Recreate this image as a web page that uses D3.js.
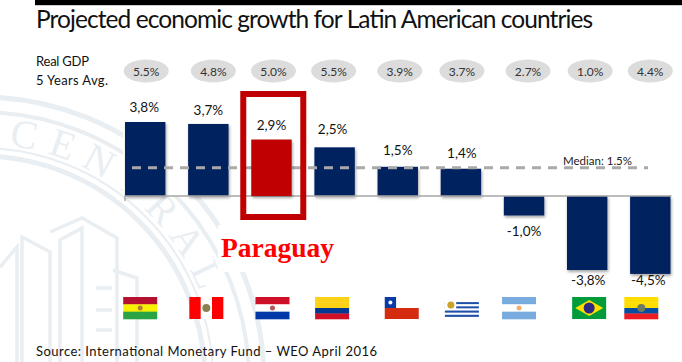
<!DOCTYPE html>
<html>
<head>
<meta charset="utf-8">
<script src="https://cdn.jsdelivr.net/npm/d3@7"></script>
<style>
  html, body { margin: 0; padding: 0; background: #fff; }
  svg { display: block; }
  text { font-family: Lato, "Open Sans", sans-serif; }
</style>
</head>
<body>
<div id="viz"></div>
<script>
const _W = 682, _H = 362;
const _NAVY = '#00205f', _RED = '#c00000', _MARK = '#e9eef2';
const _SEAL_X = -19, _SEAL_Y = 380;

const countries = ['Bolivia', 'Peru', 'Paraguay', 'Colombia', 'Chile', 'Uruguay', 'Argentina', 'Brazil', 'Ecuador'];
const growth = [3.8, 3.7, 2.9, 2.5, 1.5, 1.4, -1.0, -3.8, -4.0]; // last bar is drawn shorter than its -4,5% label
const growthLabels = ['3,8%', '3,7%', '2,9%', '2,5%', '1,5%', '1,4%', '-1,0%', '-3,8%', '-4,5%'];
const avgLabels = ['5.5%', '4.8%', '5.0%', '5.5%', '3.9%', '3.7%', '2.7%', '1.0%', '4.4%'];
const median = 1.5;
const highlight = 'Paraguay';

// the original slide places these by hand, so they don't sit quite on the bar centres
const pillNudge = [1, 5, 2, -1, 2, 1, 4, 3, 0];
const labelNudge = [-1, 0, 0, -2, 0, 1, 0, 1, -2];
const labelGap = [10, 9, 10, 13, 12, 11, 21, 15, 11];
const flagNudge = [-5, -2, 1, -2.5, 4, 1, -5, 2, -9];

const svg = d3.select('#viz').append('svg').attr('width', _W).attr('height', _H);

const x = d3.scaleBand().domain(countries).range([125, 670.5]).paddingInner(.36);
const y = d3.scaleLinear().domain([0, 3.8]).range([196, 122]);

svg.append('defs').append('filter').attr('id', 'shadow')
    .attr('x', '-10%').attr('y', '-10%').attr('width', '125%').attr('height', '125%')
    .append('feDropShadow')
    .attr('dx', 1).attr('dy', 2).attr('stdDeviation', 1.5)
    .attr('flood-color', '#000').attr('flood-opacity', .35);

// seal in the background
const seal = svg.append('g').attr('fill', 'none').attr('stroke', _MARK);
[[283, 5], [268, 4], [232, 2], [224, 5]].forEach(([r, w]) => {
    seal.append('circle').attr('cx', _SEAL_X).attr('cy', _SEAL_Y).attr('r', r).attr('stroke-width', w);
});
// one text per letter so each can turn with the ring
const sealAngle = d3.scalePoint().domain(d3.range(7)).range([10, 65]);
svg.append('g').selectAll('text')
    .data('CENTRAL'.split(''))
    .join('text')
    .style('font-family', '"Liberation Serif", serif')
    .attr('font-size', 40).attr('fill', _MARK).attr('text-anchor', 'middle')
    .attr('transform', (d, i) => 'translate(' + _SEAL_X + ',' + _SEAL_Y + ') rotate(' + sealAngle(i) + ') translate(0,-236)')
    .text(d => d);
seal.append('path')
    .attr('stroke-width', 3.5)
    .attr('d', 'M0,267L17,247V362M22,362V237L50,252V362M50,232L82,218L117,238V362M60,362V240L82,228V362'
        + 'M113,270L137,278V362M96,288H112M96,310H112M96,330H112');

// white patches the slide has over the seal
svg.append('rect').attr('x', 123).attr('y', 88).attr('width', 559).attr('height', 108).attr('fill', '#fff');
svg.append('rect').attr('x', 218).attr('y', 225).attr('width', 125).attr('height', 47).attr('fill', '#fff');

// header
svg.append('rect').attr('x', 35).attr('y', 0).attr('width', 647).attr('height', 5).attr('fill', '#000');
svg.append('rect').attr('x', 35).attr('y', 5).attr('width', 647).attr('height', 1).attr('fill', '#ccc');
svg.append('text')
    .attr('x', 36).attr('y', 28)
    .attr('font-size', 24.5).attr('fill', '#111')
    .attr('textLength', 557).attr('lengthAdjust', 'spacing')
    .text('Projected economic growth for Latin American countries');

svg.append('text').attr('x', 36).attr('y', 66).attr('font-size', 13).attr('fill', '#111')
    .attr('textLength', 53).attr('lengthAdjust', 'spacing').text('Real GDP');
svg.append('text').attr('x', 36).attr('y', 85).attr('font-size', 13).attr('fill', '#111')
    .attr('textLength', 72).attr('lengthAdjust', 'spacing').text('5 Years  Avg.');

// 5 year average pills
const pills = svg.append('g').selectAll('g')
    .data(countries)
    .join('g')
    .attr('transform', (d, i) => 'translate(' + (x(d) + x.bandwidth() / 2 + pillNudge[i]) + ',71)');
pills.append('ellipse').attr('rx', 22.5).attr('ry', 11.5).attr('fill', '#dcdcdc');
pills.append('text')
    .attr('text-anchor', 'middle').attr('y', 4.5)
    .attr('font-size', 12).attr('fill', '#333')
    .text((d, i) => avgLabels[i]);

// bars
const barRect = sel => sel
    .attr('x', d => x(d))
    .attr('y', d => y(Math.max(0, growth[countries.indexOf(d)])))
    .attr('width', x.bandwidth())
    .attr('height', d => Math.abs(y(growth[countries.indexOf(d)]) - y(0)))
    .attr('filter', 'url(#shadow)');

svg.append('g').selectAll('rect')
    .data(countries.filter(d => d !== highlight))
    .join('rect')
    .call(barRect)
    .attr('fill', _NAVY);

// axis line
svg.append('path')
    .attr('d', 'M' + x.range()[0] + ',201V' + y(0) + 'H' + (x.range()[1] + 1))
    .attr('fill', 'none').attr('stroke', '#a6a6a6').attr('stroke-width', 1.5);

// median
svg.append('line')
    .attr('x1', 132).attr('x2', 648)
    .attr('y1', y(median) + 1).attr('y2', y(median) + 1)
    .attr('stroke', '#a9a9a9').attr('stroke-width', 3)
    .attr('stroke-dasharray', '9 7');
svg.append('text')
    .attr('x', 563).attr('y', 165)
    .attr('font-size', 11.5).attr('fill', '#222')
    .attr('textLength', 69).attr('lengthAdjust', 'spacing')
    .text('Median: ' + median.toFixed(1) + '%');

// Paraguay goes over the median line
svg.append('g').selectAll('rect')
    .data([highlight])
    .join('rect')
    .call(barRect)
    .attr('fill', _RED);
svg.append('rect')
    .attr('x', x(highlight) - 8).attr('y', 94)
    .attr('width', 60).attr('height', 123)
    .attr('fill', 'none').attr('stroke', _RED).attr('stroke-width', 6);
svg.append('text')
    .style('font-family', '"Liberation Serif", serif')
    .attr('x', 221).attr('y', 257)
    .attr('font-size', 27.5).attr('font-weight', 'bold').attr('fill', '#ff0000')
    .text(highlight);

// value labels
svg.append('g').selectAll('text')
    .data(countries)
    .join('text')
    .attr('text-anchor', 'middle')
    .attr('font-size', 13.5).attr('fill', '#111')
    .attr('x', (d, i) => x(d) + x.bandwidth() / 2 + labelNudge[i])
    .attr('y', (d, i) => y(growth[i]) + (growth[i] < 0 ? labelGap[i] : -labelGap[i]))
    .text((d, i) => growthLabels[i]);

// flags
const _FW = 34, _FH = 22;
const stripes = {
    Bolivia: ['#b5102f', '#f7f000', '#2aa345'],
    Paraguay: ['#ce1126', '#fff', '#0038a8'],
    Colombia: ['#fcd116', '#fcd116', '#003893', '#ce1126'],
    Argentina: ['#79acde', '#fff', '#79acde'],
    Ecuador: ['#ffdd00', '#ffdd00', '#034ea2', '#ed1c24'],
    Uruguay: ['#fff', '#1f4fa8', '#fff', '#1f4fa8', '#fff', '#1f4fa8', '#fff', '#1f4fa8', '#fff']
};
const emblem = {
    Bolivia: ['#b0803a', 2.5], Paraguay: ['#b3565a', 2.5], Argentina: ['#f0b070', 2.5],
    Ecuador: ['#6b7a60', 4], Peru: ['#8a8050', 4]
};

const flags = svg.append('g').selectAll('g')
    .data(countries)
    .join('g')
    .attr('transform', (d, i) => 'translate(' + (x(d) + x.bandwidth() / 2 + flagNudge[i] - _FW / 2) + ',297)');

flags.each(function(name) {
    const f = d3.select(this);
    if (stripes[name]) {
        const list = stripes[name];
        const top = name === 'Uruguay' ? 3 : 0;
        const sy = d3.scaleBand().domain(d3.range(list.length)).range([top, _FH]);
        f.selectAll('rect').data(list).join('rect')
            .attr('x', 0).attr('y', (c, i) => sy(i))
            .attr('width', _FW).attr('height', sy.bandwidth() + .3)
            .attr('fill', c => c);
    }
    if (name === 'Peru') {
        f.append('rect').attr('width', _FW).attr('height', _FH).attr('fill', '#f00');
        f.append('rect').attr('x', _FW / 3).attr('width', _FW / 3).attr('height', _FH).attr('fill', '#fff');
    }
    if (name === 'Chile') {
        f.append('rect').attr('width', _FW).attr('height', _FH / 2).attr('fill', '#fff');
        f.append('rect').attr('y', _FH / 2).attr('width', _FW).attr('height', _FH / 2).attr('fill', '#d52b10');
        f.append('rect').attr('width', _FW / 3).attr('height', _FH / 2).attr('fill', '#0a3aa8');
        f.append('circle').attr('cx', _FW / 6).attr('cy', _FH / 4).attr('r', 2).attr('fill', '#fff');
    }
    if (name === 'Uruguay') {
        f.append('rect').attr('y', 3).attr('width', _FW / 3).attr('height', 10).attr('fill', '#fff');
        f.append('circle').attr('cx', 6).attr('cy', 8).attr('r', 3.5).attr('fill', '#c9a227');
    }
    if (name === 'Brazil') {
        f.append('rect').attr('width', _FW).attr('height', _FH).attr('fill', '#009b3a');
        f.append('path').attr('d', d3.line()([[3, _FH / 2], [_FW / 2, 3], [_FW - 3, _FH / 2], [_FW / 2, _FH - 3]]) + 'Z').attr('fill', '#fedf00');
        f.append('circle').attr('cx', _FW / 2).attr('cy', _FH / 2).attr('r', 5.5).attr('fill', '#2b2a80');
    }
    if (emblem[name]) {
        f.append('circle').attr('cx', _FW / 2).attr('cy', _FH / 2)
            .attr('r', emblem[name][1]).attr('fill', emblem[name][0]);
    }
});

// source
svg.append('text')
    .attr('x', 36).attr('y', 356)
    .attr('font-size', 13).attr('fill', '#111')
    .attr('textLength', 341).attr('lengthAdjust', 'spacing')
    .text('Source: International Monetary Fund \u2013 WEO April 2016');
</script>
</body>
</html>
